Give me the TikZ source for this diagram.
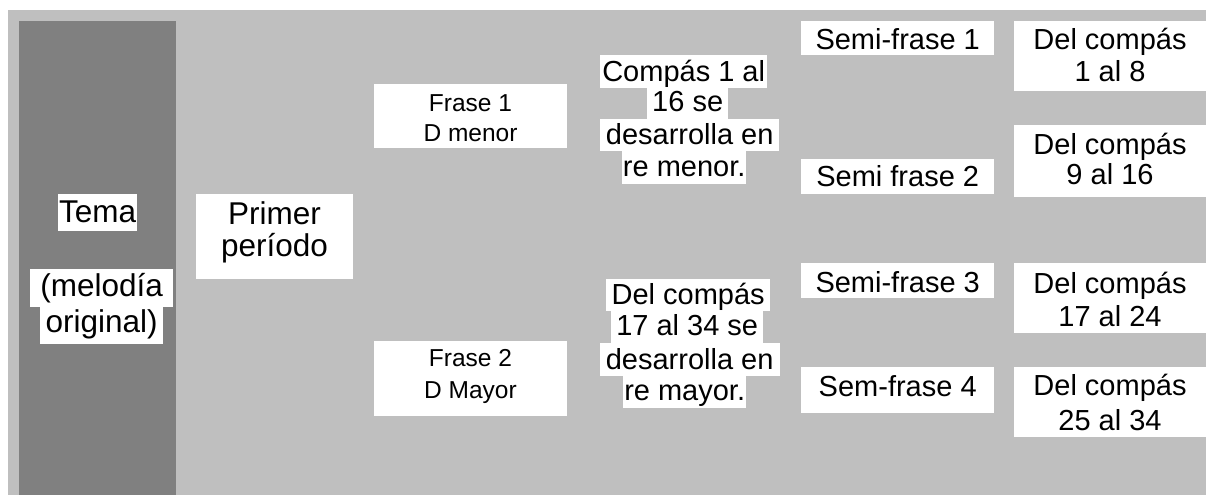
\documentclass[tikz,border=0pt]{standalone}
\usepackage{fontspec}
\setmainfont{Liberation Sans}
\definecolor{bggray}{RGB}{191,191,191}
\definecolor{dkgray}{RGB}{128,128,128}
\begin{document}
\begin{tikzpicture}[x=1pt,y=-1pt,
  hbox/.style={fill=white, inner sep=0pt, anchor=north west, draw=none},
  lbl/.style={inner sep=0pt, anchor=base},
  fa/.style={font=\fontsize{29}{32}\selectfont},
  fbig/.style={font=\fontsize{31.5}{34}\selectfont},
  fsm/.style={font=\fontsize{24.5}{30}\selectfont}]
\useasboundingbox (0,0) rectangle (1206,495);
\fill[bggray] (8,10) rectangle (1206,495);
\fill[dkgray] (19,21) rectangle (176,495);

% column 1
\node[hbox, fbig, minimum width=79, text height=28.7, text depth=8.3] (tema) at (58,194) {Tema};
\node[hbox, fbig, minimum width=143, text height=27.7, text depth=10.3] (mel1) at (30,269) {(melodía};
\node[hbox, fbig, minimum width=123, text height=25.3, text depth=12] (mel2) at (40,306.7) {original)};

% primer periodo
\node[hbox, minimum width=157, minimum height=85] (pp) at (196,194) {};
\node[lbl, fbig] (pp1) at (274.5,224.3) {Primer};
\node[lbl, fbig] (pp2) at (274.5,256) {período};

% frases
\node[hbox, minimum width=193, minimum height=63.3] (f1) at (374,84) {};
\node[lbl, fsm] (f1a) at (470.5,111.7) {Frase 1};
\node[lbl, fsm] (f1b) at (470.5,141.7) {D menor};
\node[hbox, minimum width=193, minimum height=74.7] (f2) at (374,341) {};
\node[lbl, fsm] (f2a) at (470.5,366.7) {Frase 2};
\node[lbl, fsm] (f2b) at (470.5,398.3) {D Mayor};

% compas column
\node[hbox, fa, minimum width=167, text height=26, text depth=6.7] (c1) at (600,55) {Compás 1 al};
\node[hbox, fa, minimum width=81, text height=23.3, text depth=8] (c2) at (647,87.7) {16 se};
\node[hbox, fa, minimum width=179, text height=25.3, text depth=6.7] (c3) at (600,119) {desarrolla en~};
\node[hbox, fa, minimum width=124, text height=25.7, text depth=7] (c4) at (622,151) {re menor.};

\node[hbox, fa, minimum width=164, text height=25.3, text depth=6.7] (d1) at (606,279) {Del compás~};
\node[hbox, fa, minimum width=152, text height=24.7, text depth=7] (d2) at (611,311) {17 al 34 se~};
\node[hbox, fa, minimum width=180.3, text height=26.3, text depth=6.7] (d3) at (599.3,342.7) {desarrolla en~};
\node[hbox, fa, minimum width=123, text height=24.3, text depth=7.7] (d4) at (623,375.7) {re mayor.};

% semi-frases
\node[hbox, fa, minimum width=193, text height=28.3, text depth=5.7] (s1) at (801,21) {Semi-frase 1};
\node[hbox, fa, minimum width=193, text height=27.7, text depth=7.3] (s2) at (801,159) {Semi frase 2};
\node[hbox, fa, minimum width=193, text height=29.7, text depth=5.3] (s3) at (801,263) {Semi-frase 3};
\node[hbox, fa, minimum width=193, text height=29.7, text depth=16.3] (s4) at (801,367) {Sem-frase 4};

% right column
\node[hbox, minimum width=192, minimum height=70] (r1) at (1014,21) {};
\node[lbl, fa] (r1a) at (1110,50) {Del compás};
\node[lbl, fa] (r1b) at (1110,81.7) {1 al 8};
\node[hbox, minimum width=192, minimum height=71.7] (r2) at (1014,125) {};
\node[lbl, fa] (r2a) at (1110,154.3) {Del compás};
\node[lbl, fa] (r2b) at (1110,184.3) {9 al 16};
\node[hbox, minimum width=192, minimum height=70] (r3) at (1014,263) {};
\node[lbl, fa] (r3a) at (1110,293.3) {Del compás};
\node[lbl, fa] (r3b) at (1110,326) {17 al 24};
\node[hbox, minimum width=192, minimum height=70] (r4) at (1014,367) {};
\node[lbl, fa] (r4a) at (1110,395) {Del compás};
\node[lbl, fa] (r4b) at (1110,430) {25 al 34};
\end{tikzpicture}
\end{document}
